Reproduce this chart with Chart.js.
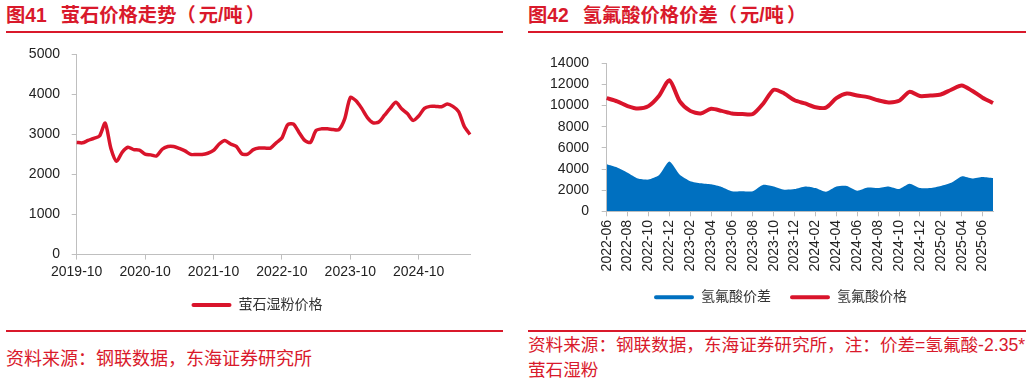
<!DOCTYPE html>
<html lang="zh-CN"><head><meta charset="utf-8">
<script src="https://cdn.jsdelivr.net/npm/chart.js@4.4.1/dist/chart.umd.min.js"></script>
<style>
body{margin:0;width:1032px;height:384px;background:#fff;position:relative;overflow:hidden;font-family:"Liberation Sans","Noto Sans CJK SC",sans-serif;}
.title{position:absolute;top:3px;font-weight:bold;font-size:19.3px;font-family:"Liberation Sans","Noto Sans CJK SC",sans-serif;color:#D9192B;white-space:nowrap;line-height:26px;}
.title .num{margin-right:14px;}
.title .unit{margin:0 3px;}
.rule{position:absolute;height:2px;background:#D9192B;}
.src{position:absolute;font-family:"Liberation Sans","Noto Sans CJK SC",sans-serif;color:#D9192B;line-height:25px;white-space:nowrap;}
.box{position:absolute;top:40px;width:516px;height:282px;}
</style>
</head><body>
<div class="title" style="left:6px">图<span class="num">41</span>萤石价格走势（<span class="unit">元/吨</span>）</div>
<div class="rule" style="left:6px;width:497px;top:31px"></div>
<div class="box" style="left:0"><canvas id="c1"></canvas></div>
<div class="rule" style="left:6px;width:497px;top:330px"></div>
<div class="src" style="left:6px;top:347px;font-size:18px">资料来源：钢联数据，东海证券研究所</div>

<div class="title" style="left:528px">图<span class="num">42</span>氢氟酸价格价差（<span class="unit">元/吨</span>）</div>
<div class="rule" style="left:528px;width:498px;top:31px"></div>
<div class="box" style="left:516px"><canvas id="c2"></canvas></div>
<div class="rule" style="left:528px;width:498px;top:330px"></div>
<div class="src" style="left:528px;top:333px;font-size:17.6px">资料来源：钢联数据，东海证券研究所，注：价差=氢氟酸-2.35*<br>萤石湿粉</div>

<script>
const fluoriteMonths = [
 '2019-10','2019-11','2019-12',
 '2020-01','2020-02','2020-03','2020-04','2020-05','2020-06','2020-07','2020-08','2020-09','2020-10','2020-11','2020-12',
 '2021-01','2021-02','2021-03','2021-04','2021-05','2021-06','2021-07','2021-08','2021-09','2021-10','2021-11','2021-12',
 '2022-01','2022-02','2022-03','2022-04','2022-05','2022-06','2022-07','2022-08','2022-09','2022-10','2022-11','2022-12',
 '2023-01','2023-02','2023-03','2023-04','2023-05','2023-06','2023-07','2023-08','2023-09','2023-10','2023-11','2023-12',
 '2024-01','2024-02','2024-03','2024-04','2024-05','2024-06','2024-07','2024-08','2024-09','2024-10','2024-11','2024-12',
 '2025-01','2025-02','2025-03','2025-04','2025-05','2025-06','2025-07'
];
const fluoritePrice = [
 2800,2790,2850,2900,2960,3280,2650,2330,2560,2680,
 2620,2610,2510,2490,2460,2630,2700,2700,2650,2590,
 2500,2500,2500,2530,2600,2760,2850,2760,2700,2510,
 2510,2620,2660,2660,2660,2790,2910,3240,3260,3050,
 2850,2800,3100,3140,3140,3120,3120,3380,3920,3840,
 3650,3420,3290,3310,3480,3650,3800,3640,3520,3350,
 3460,3650,3700,3700,3690,3760,3700,3570,3200,3000
];
const hfMonths = [
 '2022-06','2022-07','2022-08','2022-09','2022-10','2022-11','2022-12',
 '2023-01','2023-02','2023-03','2023-04','2023-05','2023-06','2023-07','2023-08','2023-09','2023-10','2023-11','2023-12',
 '2024-01','2024-02','2024-03','2024-04','2024-05','2024-06','2024-07','2024-08','2024-09','2024-10','2024-11','2024-12',
 '2025-01','2025-02','2025-03','2025-04','2025-05','2025-06','2025-07'
];
const hfPrice = [
 10700,10400,9950,9720,9950,10900,12400,10400,9500,9250,
 9700,9500,9250,9200,9200,10200,11500,11150,10500,10200,
 9850,9800,10700,11150,10950,10800,10500,10300,10450,11300,
 10900,10950,11050,11500,11900,11400,10750,10250
];
const hfSpread = [
 4450,4150,3650,3100,3000,3400,4700,3450,2850,2650,
 2550,2300,1900,1900,1900,2500,2350,2050,2100,2350,
 2200,1850,2350,2400,1950,2250,2200,2350,2100,2600,
 2200,2200,2400,2700,3300,3100,3250,3150
];
const fluoriteYTicks = {min:0, max:5000, step:1000};
const hfYTicks = {min:0, max:14000, step:2000};

const RED = '#D9142B', BLUE = '#0070C0', AXIS = '#BFBFBF';
const FONT = '"Liberation Sans","Noto Sans CJK SC",sans-serif';

function legendItems(chart){
  return chart.data.datasets.map((d,i)=>({text:d.label, fillStyle:d.legendColor, strokeStyle:d.legendColor,
    lineWidth:0, hidden:false, datasetIndex:i, borderRadius:2, fontColor:'#333'}));
}
const plain = v => String(v);
// nudges the centred legend sideways after layout
const legendShift = {id:'legendShift', afterLayout(chart, args, opts){
  const l = chart.legend; if (!l) return; l.left += opts.dx; l.right += opts.dx; }};

new Chart(document.getElementById('c1'), {
  type:'line',
  data:{labels:fluoriteMonths, datasets:[{label:'萤石湿粉价格', data:fluoritePrice, borderColor:RED, legendColor:RED,
    borderWidth:3.5, pointRadius:0, tension:0.25, fill:false}]},
  plugins:[legendShift],
  options:{
    responsive:true, maintainAspectRatio:false, animation:false,
    layout:{padding:{left:0,right:46,top:14.3,bottom:0}},
    plugins:{tooltip:{enabled:false}, legendShift:{dx:22},
      legend:{position:'bottom', labels:{boxWidth:40, boxHeight:4, padding:13.4, color:'#333',
        font:{size:14, family:FONT}, generateLabels:legendItems}}},
    scales:{
      x:{grid:{display:true, drawOnChartArea:false, tickLength:5, color:AXIS},
         border:{color:AXIS},
         afterBuildTicks:s=>{ s.ticks = s.ticks.filter(t=>t.value%12===0); },
         afterFit:s=>{ s.height = 30; },
         ticks:{autoSkip:false, maxRotation:0, minRotation:0, padding:4, color:'#222', font:{size:14, family:FONT}}},
      y:{min:fluoriteYTicks.min, max:fluoriteYTicks.max,
         grid:{display:true, drawOnChartArea:false, tickLength:5, color:AXIS},
         border:{color:AXIS},
         afterFit:s=>{ s.width = 76.7; s.paddingTop = 0; s.paddingBottom = 0; },
         ticks:{stepSize:fluoriteYTicks.step, padding:11.7, color:'#222', font:{size:14, family:FONT}, callback:plain}}
    }
  }
});

new Chart(document.getElementById('c2'), {
  type:'line',
  data:{labels:hfMonths, datasets:[
    {label:'氢氟酸价差', data:hfSpread, borderColor:BLUE, backgroundColor:BLUE, legendColor:BLUE,
      borderWidth:0, pointRadius:0, tension:0.2, fill:'origin'},
    {label:'氢氟酸价格', data:hfPrice, borderColor:RED, legendColor:RED,
      borderWidth:4, pointRadius:0, tension:0.25, fill:false}
  ]},
  plugins:[legendShift],
  options:{
    responsive:true, maintainAspectRatio:false, animation:false,
    layout:{padding:{left:0,right:39,top:23.3,bottom:7.7}},
    plugins:{tooltip:{enabled:false}, legendShift:{dx:26},
      legend:{position:'bottom', labels:{boxWidth:40, boxHeight:4, padding:19, color:'#333',
        font:{size:14, family:FONT}, generateLabels:legendItems}}},
    scales:{
      x:{grid:{display:true, drawOnChartArea:false, tickLength:5, color:AXIS},
         border:{color:AXIS},
         afterBuildTicks:s=>{ s.ticks = s.ticks.filter(t=>t.value%2===0); },
         afterFit:s=>{ s.height = 60; },
         ticks:{autoSkip:false, maxRotation:90, minRotation:90, padding:3.7, color:'#222', font:{size:14, family:FONT}}},
      y:{min:hfYTicks.min, max:hfYTicks.max,
         grid:{display:true, drawOnChartArea:false, tickLength:5, color:AXIS},
         border:{color:AXIS},
         afterFit:s=>{ s.width = 90.7; s.paddingTop = 0; s.paddingBottom = 0; },
         ticks:{stepSize:hfYTicks.step, padding:12.7, color:'#222', font:{size:14, family:FONT}, callback:plain}}
    }
  }
});
</script>
</body></html>
